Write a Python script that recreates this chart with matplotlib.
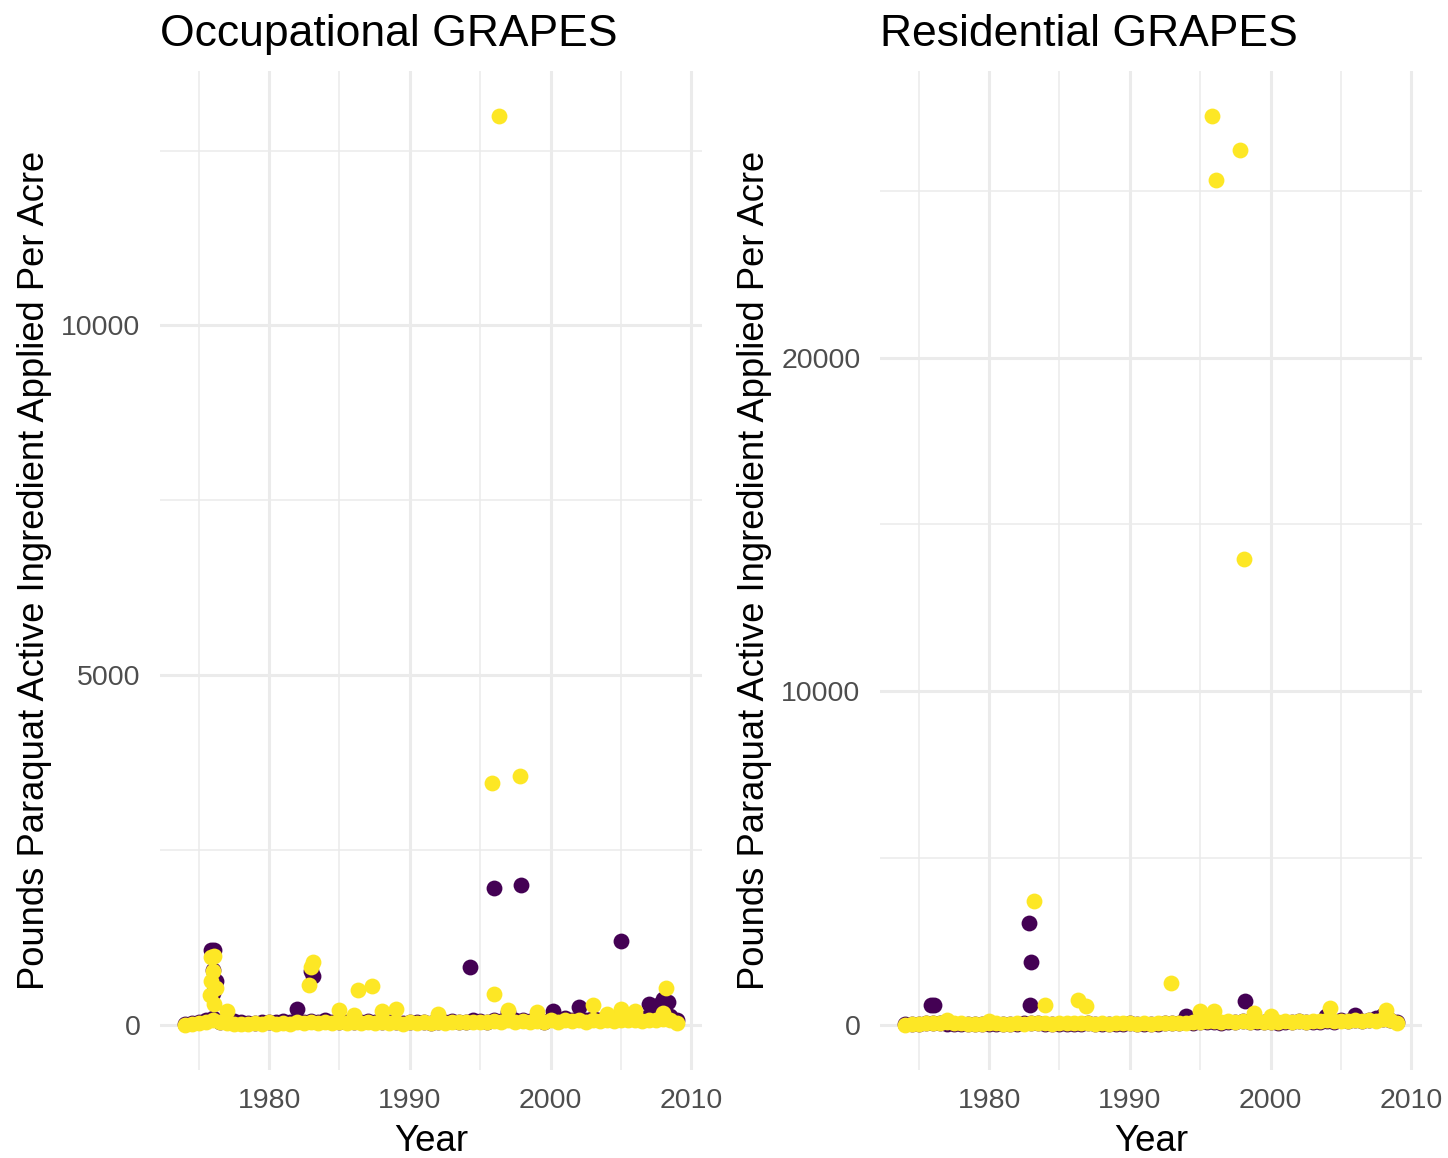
import numpy as np
import matplotlib.pyplot as plt

PURPLE = "#440154"
YELLOW = "#FDE725"

# dense band of points near zero (every half year)
base_years = [1974.0, 1974.5, 1975.0, 1975.5, 1976.0, 1976.5, 1977.0, 1977.5, 1978.0, 1978.5,
              1979.0, 1979.5, 1980.0, 1980.5, 1981.0, 1981.5, 1982.0, 1982.5, 1983.0, 1983.5,
              1984.0, 1984.5, 1985.0, 1985.5, 1986.0, 1986.5, 1987.0, 1987.5, 1988.0, 1988.5,
              1989.0, 1989.5, 1990.0, 1990.5, 1991.0, 1991.5, 1992.0, 1992.5, 1993.0, 1993.5,
              1994.0, 1994.5, 1995.0, 1995.5, 1996.0, 1996.5, 1997.0, 1997.5, 1998.0, 1998.5,
              1999.0, 1999.5, 2000.0, 2000.5, 2001.0, 2001.5, 2002.0, 2002.5, 2003.0, 2003.5,
              2004.0, 2004.5, 2005.0, 2005.5, 2006.0, 2006.5, 2007.0, 2007.5, 2008.0, 2008.5, 2009.0]

occ_base_purple = [10, 20, 40, 60, 90, 40, 30, 50, 30, 20, 20, 30, 40, 30, 50, 30, 60, 40, 50, 40,
                   60, 30, 40, 30, 40, 30, 50, 30, 40, 30, 30, 20, 40, 30, 30, 20, 30, 40, 50, 30,
                   40, 60, 50, 40, 60, 50, 80, 60, 70, 50, 60, 40, 80, 60, 90, 70, 80, 60, 90, 70,
                   100, 80, 90, 80, 100, 90, 120, 150, 160, 120, 60]
occ_base_yellow = [0, 10, 20, 30, 60, 40, 20, 10, 10, 10, 20, 10, 30, 10, 20, 10, 30, 20, 40, 20,
                   30, 20, 40, 20, 30, 20, 40, 20, 30, 20, 30, 10, 40, 20, 30, 20, 30, 20, 40, 30,
                   30, 40, 40, 30, 50, 40, 60, 40, 50, 40, 50, 30, 60, 40, 60, 50, 60, 40, 70, 50,
                   60, 50, 70, 60, 60, 50, 70, 60, 80, 60, 20]
res_base_purple = [10, 20, 30, 40, 50, 40, 30, 20, 20, 20, 20, 20, 30, 20, 30, 20, 30, 40, 60, 40,
                   30, 20, 30, 20, 30, 20, 40, 20, 30, 20, 30, 20, 40, 20, 30, 20, 30, 40, 60, 40,
                   80, 60, 90, 70, 80, 60, 90, 70, 100, 80, 90, 70, 80, 60, 90, 70, 100, 80, 90, 70,
                   120, 90, 130, 100, 140, 110, 150, 130, 160, 140, 80]
res_base_yellow = [0, 20, 30, 40, 60, 50, 80, 60, 40, 30, 30, 20, 60, 40, 30, 20, 40, 30, 50, 40,
                   40, 30, 60, 40, 50, 40, 60, 30, 40, 30, 60, 40, 50, 30, 40, 30, 50, 40, 60, 50,
                   60, 80, 90, 100, 120, 90, 100, 80, 110, 90, 100, 80, 90, 70, 100, 80, 110, 90, 120, 100,
                   130, 100, 120, 110, 130, 110, 140, 120, 160, 130, 60]

# outliers, Occupational panel
occ_pur_x = [1975.9, 1976.1, 1976.0, 1976.2, 1976.0, 1982.0, 1983.0, 1983.1, 1994.3, 1996.0,
             1997.9, 1997.0, 2000.2, 2002.0, 2005.0, 2007.0, 2007.6, 2008.0, 2008.3]
occ_pur_y = [1060, 1060, 780, 620, 450, 220, 760, 700, 830, 1950,
             2000, 180, 200, 250, 1200, 300, 280, 370, 330]
occ_yel_x = [1975.9, 1976.1, 1976.0, 1975.9, 1976.2, 1975.8, 1976.1, 1977.0, 1982.8, 1983.0,
             1983.1, 1986.3, 1987.3, 1985.0, 1986.0, 1988.0, 1989.0, 1992.0, 1995.8, 1996.0,
             1996.3, 1997.8, 1997.0, 1999.0, 2003.0, 2005.0, 2006.0, 2008.2, 2008.0, 2004.0]
occ_yel_y = [960, 980, 760, 620, 520, 420, 300, 200, 560, 820,
             890, 490, 545, 210, 140, 200, 230, 150, 3460, 444,
             12990, 3560, 210, 180, 280, 220, 200, 520, 160, 150]

# outliers, Residential panel
res_pur_x = [1975.9, 1976.1, 1982.8, 1983.0, 1982.9, 1998.2, 1994.0, 2003.9, 2006.0, 2008.0, 2007.5]
res_pur_y = [600, 580, 3060, 1890, 600, 720, 250, 250, 300, 300, 200]
res_yel_x = [1983.2, 1984.0, 1986.3, 1986.9, 1992.9, 1995.0, 1995.8, 1996.1, 1996.0, 1997.8,
             1998.1, 1998.8, 2000.0, 2004.2, 2008.2, 1977.0, 1980.0]
res_yel_y = [3720, 600, 750, 560, 1260, 400, 27230, 25310, 420, 26210,
             13970, 350, 250, 500, 450, 150, 120]

panels = [
    ("Occupational GRAPES", occ_base_purple, occ_base_yellow, occ_pur_x, occ_pur_y,
     occ_yel_x, occ_yel_y, [0, 5000, 10000], [2500, 7500, 12500]),
    ("Residential GRAPES", res_base_purple, res_base_yellow, res_pur_x, res_pur_y,
     res_yel_x, res_yel_y, [0, 10000, 20000], [5000, 15000, 25000]),
]

plt.rcParams['font.family'] = ['Liberation Sans', 'DejaVu Sans']

fig = plt.figure(figsize=(14.48, 11.58), dpi=100)
lefts = [160 / 1448, 880 / 1448]
w = 542 / 1448
bottom = 1 - 1070 / 1158
h = (1070 - 71) / 1158

for left, (title, bp, by, px, py, yx, yy, yt, ymin) in zip(lefts, panels):
    ax = fig.add_axes([left, bottom, w, h])
    ax.scatter(base_years, bp, s=130, color=PURPLE, linewidths=0, zorder=3)
    ax.scatter(px, py, s=130, color=PURPLE, linewidths=0, zorder=3)
    ax.scatter(base_years, by, s=130, color=YELLOW, linewidths=0, zorder=4)
    ax.scatter(yx, yy, s=130, color=YELLOW, linewidths=0, zorder=4)

    allx = base_years + px + yx
    ally = bp + by + py + yy
    xr = max(allx) - min(allx)
    yr = max(ally) - min(ally)
    ax.set_xlim(min(allx) - 0.05 * xr, max(allx) + 0.05 * xr)
    ax.set_ylim(min(ally) - 0.05 * yr, max(ally) + 0.05 * yr)

    ax.set_xticks([1980, 1990, 2000, 2010])
    ax.set_xticks([1975, 1985, 1995, 2005], minor=True)
    ax.set_yticks(yt)
    ax.set_yticks(ymin, minor=True)
    ax.grid(True, which='major', color='#EBEBEB', linewidth=2.2, zorder=0)
    ax.grid(True, which='minor', color='#EBEBEB', linewidth=1.1, zorder=0)
    ax.set_axisbelow(True)
    for sp in ax.spines.values():
        sp.set_visible(False)
    ax.tick_params(which='both', length=0)
    ax.tick_params(axis='x', labelsize=20.5, labelcolor='#4D4D4D', pad=13)
    ax.tick_params(axis='y', labelsize=20.5, labelcolor='#4D4D4D', pad=14)

    ax.set_xlabel("Year", fontsize=26.5, labelpad=7)
    ax.set_ylabel("Pounds Paraquat Active Ingredient Applied Per Acre", fontsize=26.2, labelpad=7)
    ax.set_title(title, loc='left', fontsize=32, pad=18)

plt.savefig("out.png", dpi=100)
